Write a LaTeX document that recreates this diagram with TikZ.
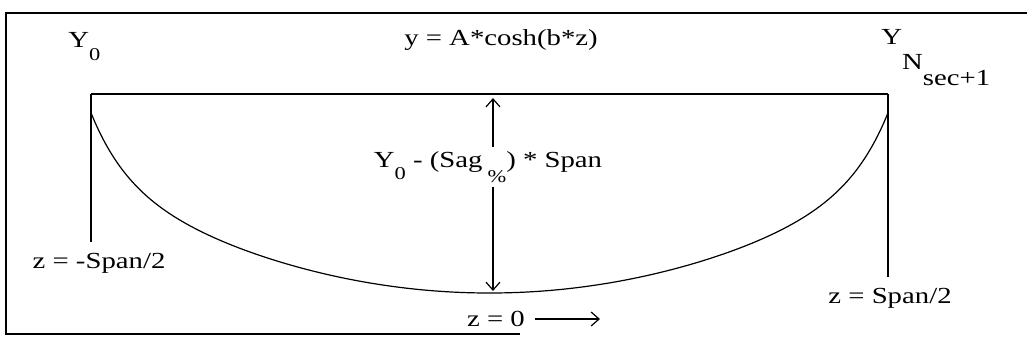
\documentclass[tikz,border=0pt]{standalone}
\usepackage{fontspec}
\setmainfont{Liberation Serif}[FakeStretch=1.25]
\usetikzlibrary{arrows.meta}

\newcommand{\lowsub}[2][6.5pt]{\raisebox{-#1}{\fontsize{9}{9}\selectfont #2}}

\begin{document}
\begin{tikzpicture}[x=0.5pt, y=-0.5pt,
  txt/.style={font=\fontsize{11.5}{13}\selectfont, inner sep=2pt},
  barb/.style={-{Straight Barb[length=4pt, width=7pt]}, line width=0.6pt},
  frame/.style={line width=1.3pt},
  wire/.style={line width=0.8pt}]

\useasboundingbox (0,0) rectangle (1027,350);

\def\zmid{489.5}
\def\hspan{398.5}
\def\ybot{293}

\draw[frame] (1027,13) -- (6,13) -- (6,334) -- (520,334);

\coordinate (L) at (91,94);
\coordinate (R) at (888,94);
\coordinate (tip) at (493,98);
\coordinate (bot) at (493,291);
\coordinate (zend) at (600,319);

\node[txt, anchor=base west] (y0) at (64,47) {Y\lowsub{0}};
\node[txt, anchor=base] (eq) at (501,45) {y = A*cosh(b*z)};
\node[txt, anchor=base west] (yn) at (877,44) {Y\raisebox{-12.5pt}{N\raisebox{-8pt}{sec+1}}};
\node[txt, anchor=base] (sag) at (488,167) {Y\lowsub[6pt]{0} - (Sag\kern2.5pt\lowsub[7.5pt]{\%}) * Span};
\node[txt, anchor=base] (zl) at (99,268) {z = -Span/2};
\node[txt, anchor=base] (zr) at (890,303) {z = Span/2};
\node[txt, anchor=base] (z0) at (496,326) {z = 0};

\draw[wire] (L) -- (R);
\draw[wire, shorten >=3pt] (L) -- (zl.north -| L);
\draw[wire, shorten >=3pt] (R) -- (zr.north -| R);

\draw[line width=0.6pt, smooth, domain=-\hspan:\hspan, samples=200]
  plot ({\zmid+\x}, {\ybot - 7*(\x/100)*(\x/100) - 69*exp((abs(\x)-\hspan)/36)});

\draw[barb] (sag.north -| tip) -- (tip);
\draw[barb] (sag.south -| tip) -- (bot);
\draw[barb, shorten <=3pt] (z0.east |- zend) -- (zend);

\end{tikzpicture}
\end{document}
